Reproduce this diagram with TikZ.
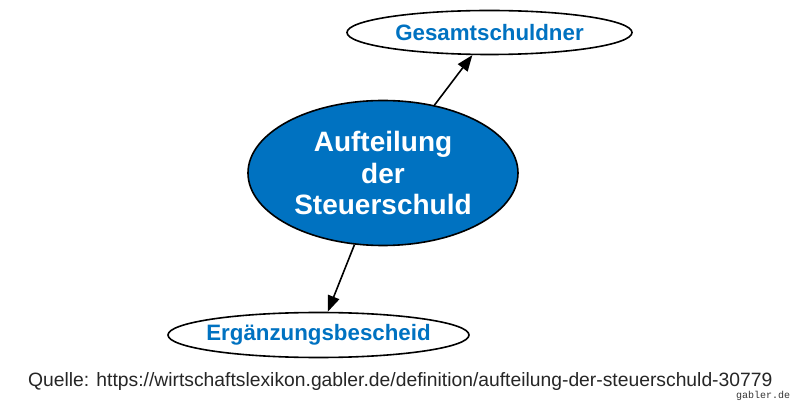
\documentclass[tikz,border=0pt]{standalone}
\usepackage{fontspec}
\setmainfont{Liberation Sans}
\newfontfamily\monofont{Liberation Mono}
\usetikzlibrary{shapes.geometric,arrows.meta}
\definecolor{gblue}{RGB}{0,114,193}
\tikzset{
  leaf/.style={ellipse,draw=black,line width=1.6pt,fill=white,inner xsep=-12pt,inner ysep=0pt,
    text=gblue,font=\fontsize{22.3}{26}\selectfont\bfseries},
  hub/.style={ellipse,draw=black,line width=1.6pt,fill=gblue,inner sep=0pt,
    text=white,align=center,font=\fontsize{28}{31.5}\selectfont\bfseries,
    minimum width=270pt,minimum height=145pt},
  conn/.style={line width=1.6pt,-{Triangle[length=16pt,width=12pt]}}
}
\begin{document}
\begin{tikzpicture}[x=1pt,y=-1pt]
\useasboundingbox (0,0) rectangle (800,411);
\fill[white] (0,0) rectangle (800,411);
\node[hub] (c) at (383,173) {Aufteilung\\der\\Steuerschuld};
\node[leaf,minimum width=285pt,minimum height=44pt] (g) at (489.5,32.5) {Gesamtschuldner};
\node[leaf,minimum width=301pt,minimum height=45pt] (e) at (318.5,335) {Ergänzungsbescheid};
\draw[conn] (c) -- (g);
\draw[conn] (c) -- (e);
\node[anchor=base west,inner sep=0pt,font=\fontsize{19.3}{22}\selectfont,text=black!85] (q) at (28,386)
  {Quelle: https://wirtschaftslexikon.gabler.de/definition/aufteilung-der-steuerschuld-30779};
\node[anchor=center,inner sep=0pt,font=\monofont\fontsize{10}{12}\selectfont,text=black!80] (gd) at (763,396) {gabler.de};
\end{tikzpicture}
\end{document}
